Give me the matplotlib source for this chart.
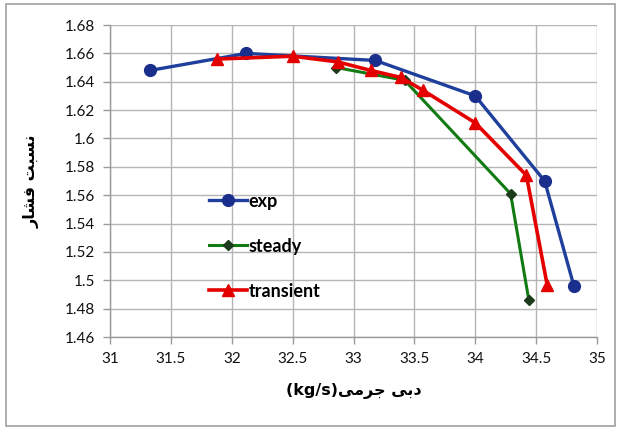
import matplotlib
matplotlib.use("Agg")
import matplotlib.pyplot as plt
from matplotlib.patches import Rectangle

# Mass flow rate (kg/s) and pressure ratio for each data set
exp_x = [31.33, 32.12, 33.18, 34.00, 34.57, 34.81]
exp_y = [1.648, 1.660, 1.655, 1.630, 1.570, 1.496]

steady_x = [32.86, 33.42, 34.29, 34.44]
steady_y = [1.650, 1.641, 1.561, 1.486]

transient_x = [31.88, 32.50, 32.87, 33.14, 33.39, 33.57, 34.00, 34.42, 34.59]
transient_y = [1.656, 1.658, 1.654, 1.648, 1.643, 1.634, 1.611, 1.574, 1.497]

x_ticks = [31, 31.5, 32, 32.5, 33, 33.5, 34, 34.5, 35]
x_tick_labels = ["31", "31.5", "32", "32.5", "33", "33.5", "34", "34.5", "35"]
y_ticks = [1.46, 1.48, 1.5, 1.52, 1.54, 1.56, 1.58, 1.6, 1.62, 1.64, 1.66, 1.68]
y_tick_labels = ["1.46", "1.48", "1.5", "1.52", "1.54", "1.56", "1.58", "1.6",
                 "1.62", "1.64", "1.66", "1.68"]

# Persian axis titles written in contextual (presentation) forms, visual order
x_title = "(kg/s)\uFEF0\uFEE3\uFEAE\uFE9F \uFEF0\uFE91\uFEA9"   # دبی جرمی(kg/s)
y_title = "\uFEAD\uFE8E\uFEB8\uFED3 \uFE96\uFE92\uFEB4\uFEE7"   # نسبت فشار

fig = plt.figure(figsize=(6.19, 4.32), dpi=100)
ax = fig.add_axes([0.1777, 0.2199, 0.9645 - 0.1777, 0.9421 - 0.2199])

ax.plot(exp_x, exp_y, color="#1f3f9c", lw=2.4, marker="o", ms=8.5,
        mfc="#1a2e8c", mec="#1a2e8c", label="exp", zorder=3)
ax.plot(steady_x, steady_y, color="#127a12", lw=2.2, marker="D", ms=5.5,
        mfc="#1c3a1c", mec="#1c3a1c", label="steady", zorder=4)
ax.plot(transient_x, transient_y, color="#e50000", lw=2.6, marker="^", ms=8.5,
        mfc="#e50000", mec="#e50000", label="transient", zorder=5)

ax.set_xlim(31, 35)
ax.set_ylim(1.46, 1.68)
ax.set_xticks(x_ticks)
ax.set_xticklabels(x_tick_labels)
ax.set_yticks(y_ticks)
ax.set_yticklabels(y_tick_labels)

for lab in ax.get_xticklabels() + ax.get_yticklabels():
    lab.set_fontfamily("Lato")
    lab.set_fontsize(11)
    lab.set_color("#111111")

ax.grid(True, color="#b5b5b5", lw=1.0)
ax.set_axisbelow(True)
for side in ("top", "right"):
    ax.spines[side].set_visible(False)
for side in ("left", "bottom"):
    ax.spines[side].set_color("#9a9a9a")
    ax.spines[side].set_linewidth(1.0)
ax.tick_params(axis="both", direction="out", length=5, width=1.0,
               color="#9a9a9a", pad=6)

ax.set_xlabel(x_title, fontfamily="DejaVu Sans", fontweight="bold",
              fontsize=11.5, labelpad=12)
ax.set_ylabel(y_title, fontfamily="DejaVu Sans", fontweight="bold",
              fontsize=11.5, labelpad=18)

leg = ax.legend(loc="upper left", bbox_to_anchor=(0.17, 0.515), frameon=False,
                handlelength=2.1, handletextpad=0.1, labelspacing=1.55,
                prop={"family": "Lato", "weight": "bold", "size": 13})

# Outer chart border
fig.patches.append(Rectangle((0.009, 0.015), 0.985, 0.975,
                             transform=fig.transFigure, fill=False,
                             edgecolor="#a0a0a0", lw=1.2))

fig.savefig("out.png", dpi=100)
